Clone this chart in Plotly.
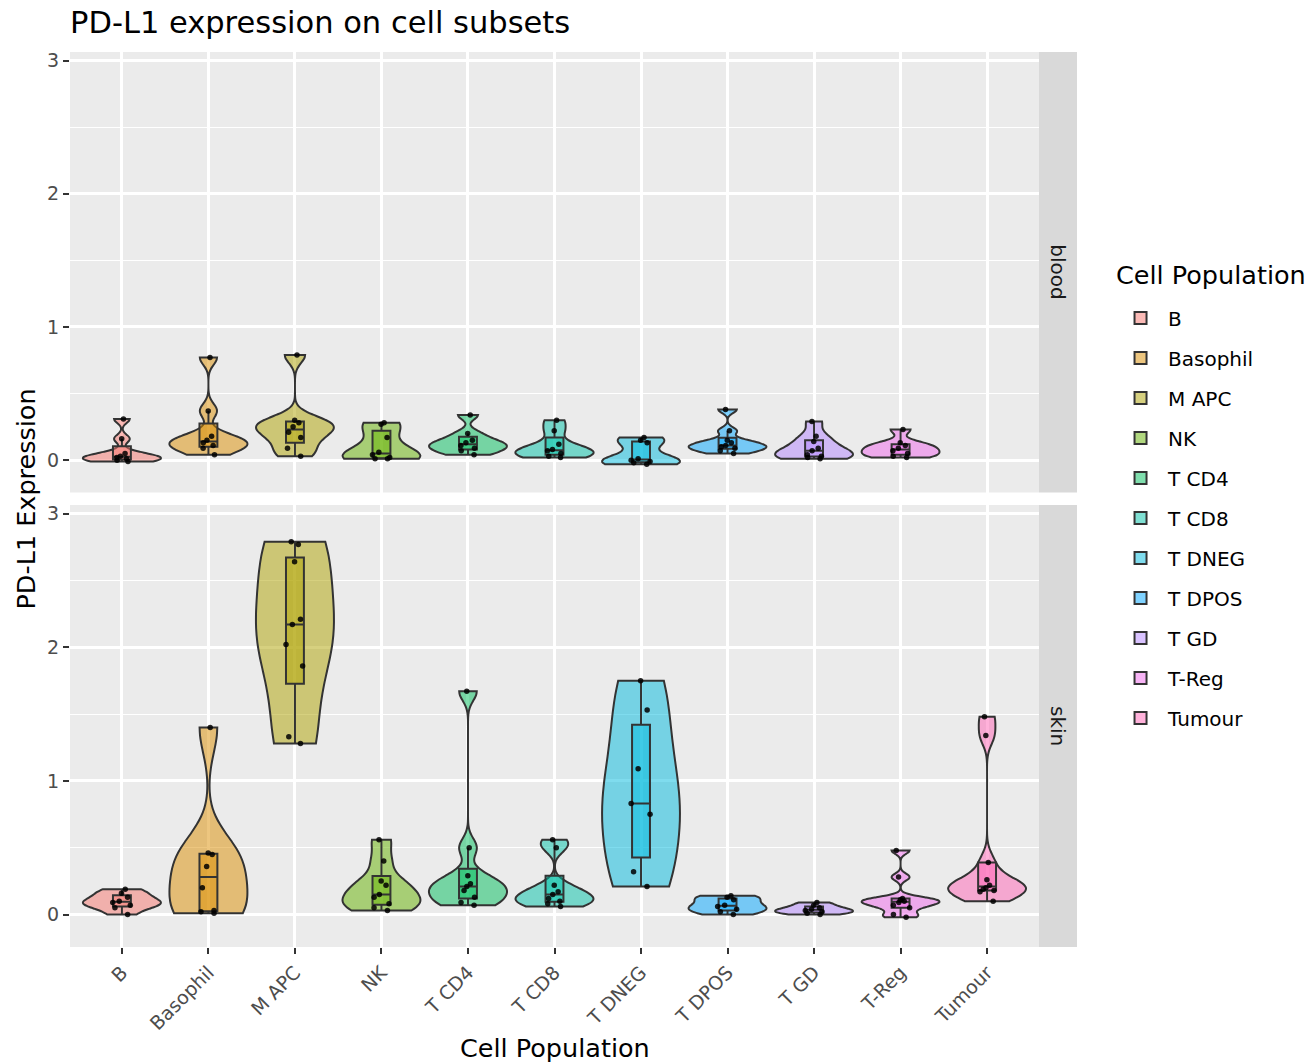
import numpy as np
import plotly.graph_objects as go
from plotly.subplots import make_subplots

categories = ["B", "Basophil", "M APC", "NK", "T CD4", "T CD8", "T DNEG",
              "T DPOS", "T GD", "T-Reg", "Tumour"]
facets = ["blood", "skin"]

colors = ["#F8766D", "#DB8E00", "#AEA200", "#64B200", "#00BD5C", "#00C1A7",
          "#00BADE", "#00A6FF", "#B385FF", "#EF67EB", "#FF63B6"]

blood_values = [
    [0.31, 0.16, 0.05, 0.03, 0.02, 0.01, 0.0, -0.01],          # B
    [0.77, 0.37, 0.18, 0.15, 0.13, 0.11, 0.09, 0.04],          # Basophil
    [0.79, 0.30, 0.28, 0.25, 0.21, 0.17, 0.09, 0.03],          # M APC
    [0.28, 0.27, 0.17, 0.06, 0.04, 0.02, 0.01, 0.01],          # NK
    [0.34, 0.20, 0.15, 0.13, 0.11, 0.09, 0.07, 0.04],          # T CD4
    [0.30, 0.22, 0.12, 0.08, 0.07, 0.05, 0.03, 0.02],          # T CD8
    [0.17, 0.15, 0.13, 0.01, 0.0, -0.01, -0.02, -0.03],        # T DNEG
    [0.38, 0.22, 0.15, 0.13, 0.11, 0.10, 0.09, 0.07, 0.05],    # T DPOS
    [0.29, 0.18, 0.14, 0.09, 0.07, 0.04, 0.03, 0.02, 0.01],    # T GD
    [0.23, 0.13, 0.11, 0.09, 0.07, 0.05, 0.03, 0.02],          # T-Reg
    [],                                                        # Tumour
]

skin_values = [
    [0.19, 0.16, 0.13, 0.10, 0.09, 0.07, 0.05, 0.0],                  # B
    [1.40, 0.46, 0.45, 0.36, 0.20, 0.03, 0.02, 0.01],                 # Basophil
    [2.79, 2.77, 2.64, 2.21, 2.17, 2.02, 1.86, 1.33, 1.28],           # M APC
    [0.56, 0.40, 0.25, 0.22, 0.15, 0.13, 0.08, 0.05, 0.03],           # NK
    [1.67, 0.50, 0.29, 0.23, 0.21, 0.18, 0.13, 0.09, 0.07],           # T CD4
    [0.56, 0.50, 0.22, 0.17, 0.15, 0.12, 0.10, 0.08, 0.06],           # T CD8
    [1.75, 1.53, 1.09, 0.83, 0.75, 0.32, 0.21],                       # T DNEG
    [0.14, 0.13, 0.11, 0.07, 0.06, 0.04, 0.02, 0.0],                  # T DPOS
    [0.09, 0.07, 0.05, 0.04, 0.03, 0.02, 0.01, 0.0],                  # T GD
    [0.48, 0.28, 0.12, 0.11, 0.10, 0.09, 0.07, 0.05, 0.0, -0.02],     # T-Reg
    [1.48, 1.34, 0.39, 0.26, 0.22, 0.20, 0.19, 0.18, 0.17, 0.10],     # Tumour
]

y_ticks = [0, 1, 2, 3]

FONT = "DejaVu Sans"
TICK = 19
SMALL = 20
LARGE = 25.5


def rgba(hex_color, a):
    h = hex_color.lstrip("#")
    r, g, b = int(h[0:2], 16), int(h[2:4], 16), int(h[4:6], 16)
    return f"rgba({r},{g},{b},{a})"


def nrd0(v):
    v = np.asarray(v, dtype=float)
    sd = np.std(v, ddof=1)
    q75, q25 = np.percentile(v, [75, 25])
    lo = min(sd, (q75 - q25) / 1.34)
    if lo <= 0:
        lo = sd if sd > 0 else 0.1
    return 0.9 * lo * len(v) ** (-0.2)


fig = make_subplots(rows=2, cols=1, shared_xaxes=True, vertical_spacing=0.014)

for row, (facet, data) in enumerate(zip(facets, [blood_values, skin_values]), start=1):
    for cat, col, vals in zip(categories, colors, data):
        if len(vals) == 0:
            continue
        fig.add_trace(
            go.Violin(
                x=[cat] * len(vals),
                y=vals,
                name=cat,
                legendgroup=cat,
                showlegend=(facet == "skin"),
                fillcolor=rgba(col, 0.5),
                line=dict(color="#333333", width=2),
                width=0.9,
                scalemode="width",
                spanmode="hard",
                bandwidth=nrd0(vals),
                points="all",
                jitter=0.3,
                pointpos=0,
                marker=dict(color="rgba(0,0,0,0.85)", size=5.5, line=dict(width=0)),
                box=dict(visible=True, width=0.23, fillcolor=rgba(col, 0.5),
                         line=dict(color="#333333", width=2)),
                meanline=dict(visible=False),
                hoveron="violins+points",
            ),
            row=row, col=1,
        )

top_dom = [0.5078, 1.0]
bot_dom = [0.0, 0.4939]

xcommon = dict(
    type="category", categoryorder="array", categoryarray=categories,
    range=[-0.6, 10.6], showgrid=True, gridcolor="white", gridwidth=2.5,
    zeroline=False, showline=False,
)
fig.update_xaxes(**xcommon)
fig.update_xaxes(showticklabels=False, ticks="", row=1, col=1)
fig.update_xaxes(ticks="outside", ticklen=6, tickwidth=2, tickcolor="#333333",
                 tickangle=-45, tickfont=dict(family=FONT, size=TICK, color="#4D4D4D"),
                 row=2, col=1)

ycommon = dict(
    range=[-0.243, 3.065], tickvals=y_ticks, ticktext=[str(t) for t in y_ticks],
    showgrid=True, gridcolor="white", gridwidth=2.5, zeroline=False, showline=False,
    ticks="outside", ticklen=6, tickwidth=2, tickcolor="#333333",
    tickfont=dict(family=FONT, size=TICK, color="#4D4D4D"),
    minor=dict(tickvals=[0.5, 1.5, 2.5], showgrid=True, gridcolor="white",
               gridwidth=1.3, ticks=""),
)
fig.update_yaxes(**ycommon)
fig.update_layout(yaxis=dict(domain=top_dom), yaxis2=dict(domain=bot_dom))

# facet strips
for facet, dom in zip(facets, [top_dom, bot_dom]):
    fig.add_shape(type="rect", xref="paper", yref="paper",
                  x0=1.0, x1=1.0392, y0=dom[0], y1=dom[1],
                  fillcolor="#D9D9D9", line=dict(width=0), layer="below")
    fig.add_annotation(text=facet, xref="paper", yref="paper",
                       x=1.0196, y=(dom[0] + dom[1]) / 2, showarrow=False,
                       textangle=90, xanchor="center", yanchor="middle",
                       font=dict(family=FONT, size=SMALL, color="#1A1A1A"))

# axis titles
fig.add_annotation(text="PD-L1 Expression", xref="paper", yref="paper",
                   x=-0.0464, y=0.5, showarrow=False, textangle=-90,
                   xanchor="center", yanchor="middle",
                   font=dict(family=FONT, size=LARGE, color="black"))
fig.add_annotation(text="Cell Population", xref="paper", yref="paper",
                   x=0.5, y=-0.1128, showarrow=False,
                   xanchor="center", yanchor="middle",
                   font=dict(family=FONT, size=LARGE, color="black"))
# legend title
fig.add_annotation(text="Cell Population", xref="paper", yref="paper",
                   x=1.0774, y=0.7508, showarrow=False,
                   xanchor="left", yanchor="middle",
                   font=dict(family=FONT, size=LARGE, color="black"))

fig.update_layout(
    width=1308, height=1064,
    margin=dict(l=70, r=269, t=52, b=117, autoexpand=False),
    paper_bgcolor="white",
    plot_bgcolor="#EBEBEB",
    violinmode="overlay",
    font=dict(family=FONT, color="black"),
    title=dict(text="PD-L1 expression on cell subsets", x=70 / 1308, xanchor="left",
               xref="container", yref="container", y=1 - 22 / 1064, yanchor="middle",
               font=dict(family=FONT, size=30.5, color="black")),
    legend=dict(
        font=dict(family=FONT, size=SMALL, color="black"),
        x=1.0764, xanchor="left", y=0.7245, yanchor="top",
        tracegroupgap=11, bgcolor="rgba(0,0,0,0)",
        itemwidth=45,
    ),
)

fig.write_html("out.html")
